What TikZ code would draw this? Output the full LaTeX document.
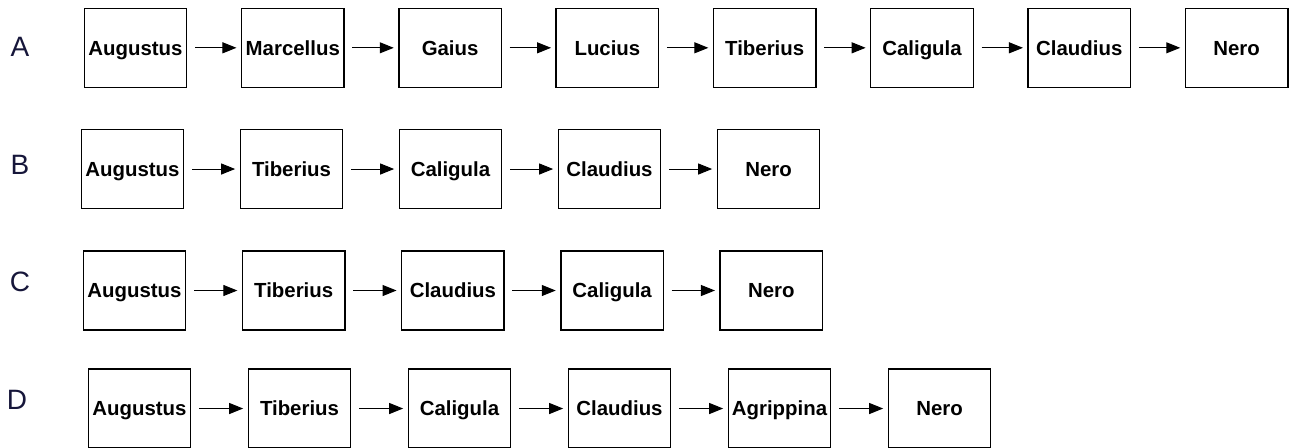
\documentclass[tikz,border=0pt]{standalone}
\usepackage{fontspec}
\setmainfont{Liberation Sans}
\usetikzlibrary{arrows.meta}

\definecolor{labelnavy}{RGB}{22,22,58}

\tikzset{
  emperor/.style={draw, line width=0.7pt, minimum width=51.25pt, minimum height=39.5pt,
    inner sep=0pt, text height=7.3pt, text depth=0pt,
    font=\bfseries\fontsize{10.2}{12}\selectfont},
  succ/.style={-{Triangle[length=7pt,width=5.5pt]}, line width=0.5pt,
    shorten <=3.8pt, shorten >=2.2pt},
  rowlabel/.style={font=\fontsize{14}{16}\selectfont, text=labelnavy}
}

\begin{document}
\begin{tikzpicture}[x=0.5pt, y=-0.5pt]
    \useasboundingbox (0,0) rectangle (1293,447);

    % row labels
    \node[rowlabel] (la) at (20,47) {A};
    \node[rowlabel] (lb) at (20,165) {B};
    \node[rowlabel] (lc) at (20,282) {C};
    \node[rowlabel] (ld) at (17,400) {D};

    % row A
    \foreach \name [count=\i] in {Augustus,Marcellus,Gaius,Lucius,Tiberius,Caligula,Claudius,Nero}
      \node[emperor] (a\i) at ({135.5+157.3*(\i-1)},47.8) {\name};
    \foreach \i [count=\j from 2] in {1,...,7}
      \draw[succ] (a\i) -- (a\j);

    % row B
    \foreach \name [count=\i] in {Augustus,Tiberius,Caligula,Claudius,Nero}
      \node[emperor] (b\i) at ({132.5+159*(\i-1)},169) {\name};
    \foreach \i [count=\j from 2] in {1,...,4}
      \draw[succ] (b\i) -- (b\j);

    % row C
    \foreach \name [count=\i] in {Augustus,Tiberius,Claudius,Caligula,Nero}
      \node[emperor] (c\i) at ({134.5+159.2*(\i-1)},290.5) {\name};
    \foreach \i [count=\j from 2] in {1,...,4}
      \draw[succ] (c\i) -- (c\j);

    % row D
    \foreach \name [count=\i] in {Augustus,Tiberius,Caligula,Claudius,Agrippina,Nero}
      \node[emperor] (d\i) at ({139.5+160*(\i-1)},408.5) {\name};
    \foreach \i [count=\j from 2] in {1,...,5}
      \draw[succ] (d\i) -- (d\j);
\end{tikzpicture}
\end{document}
